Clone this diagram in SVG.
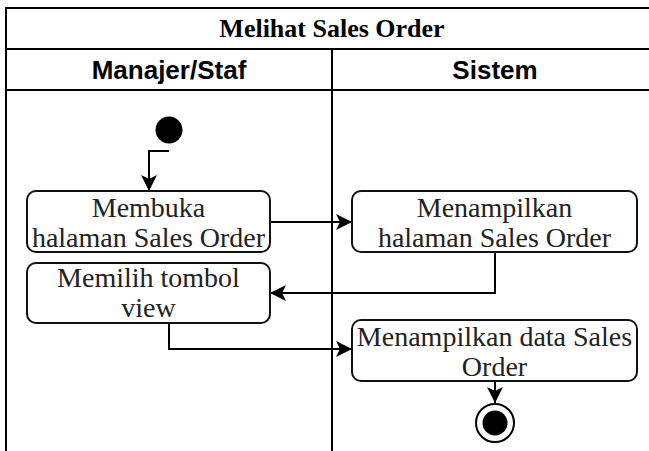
<svg xmlns="http://www.w3.org/2000/svg" width="649" height="451" viewBox="0 0 649 451">
  <style>
    .frame { fill: none; stroke: #000; stroke-width: 2; }
    .act { fill: #fff; stroke: #111; stroke-width: 2; }
    .lbl { font-family: "Liberation Serif", "Times New Roman", serif; font-size: 28px; fill: #222; text-anchor: middle; }
    .title { font-family: "Liberation Serif", "Times New Roman", serif; font-size: 26px; font-weight: bold; fill: #000; text-anchor: middle; }
    .lane { font-family: "Liberation Sans", Arial, sans-serif; font-size: 26px; font-weight: bold; fill: #000; text-anchor: middle; }
    .edge { fill: none; stroke: #000; stroke-width: 2; }
  </style>
  <defs>
    <marker id="arrow" markerUnits="userSpaceOnUse" markerWidth="17" markerHeight="17" viewBox="0 0 17 17" refX="16" refY="8" orient="auto">
      <path d="M0,0 L16,8 L0,16 L4,8 Z" fill="#000"/>
    </marker>
  </defs>

  <!-- swimlane pool -->
  <g id="pool">
    <rect x="0" y="0" width="649" height="451" fill="#fff"/>
    <path class="frame" d="M6,451 V8 H660"/>
    <path class="frame" d="M6,49 H660"/>
    <path class="frame" d="M6,90 H660"/>
    <path class="frame" d="M332,49 V451"/>
    <text class="title" x="332" y="37">Melihat Sales Order</text>
    <text class="lane" x="169" y="79">Manajer/Staf</text>
    <text class="lane" x="495" y="79">Sistem</text>
  </g>

  <!-- connectors -->
  <g id="connectors">
    <path class="edge" d="M169,151 H149 V191" marker-end="url(#arrow)"/>
    <path class="edge" d="M270,222 H352" marker-end="url(#arrow)"/>
    <path class="edge" d="M495,252 V293 H270" marker-end="url(#arrow)"/>
    <path class="edge" d="M169,323 V349 H352" marker-end="url(#arrow)"/>
    <path class="edge" d="M495,381 V403" marker-end="url(#arrow)"/>
  </g>

  <g id="start">
    <circle cx="169" cy="130" r="13.5" fill="#000"/>
  </g>

  <g id="membuka">
    <rect class="act" x="27" y="191" width="243" height="61" rx="9"/>
    <text class="lbl" x="148.5" y="217">Membuka</text>
    <text class="lbl" x="148.5" y="247">halaman Sales Order</text>
  </g>

  <g id="memilih">
    <rect class="act" x="27" y="263" width="243" height="60" rx="9"/>
    <text class="lbl" x="148.5" y="287">Memilih tombol</text>
    <text class="lbl" x="148.5" y="317">view</text>
  </g>

  <g id="tampil-halaman">
    <rect class="act" x="352" y="191" width="285" height="61" rx="9"/>
    <text class="lbl" x="494.5" y="217">Menampilkan</text>
    <text class="lbl" x="494.5" y="247">halaman Sales Order</text>
  </g>

  <g id="tampil-data">
    <rect class="act" x="352" y="320" width="285" height="61" rx="9"/>
    <text class="lbl" x="494.5" y="346">Menampilkan data Sales</text>
    <text class="lbl" x="494.5" y="376">Order</text>
  </g>

  <g id="end">
    <circle cx="495" cy="423" r="19" fill="#fff" stroke="#000" stroke-width="2"/>
    <circle cx="495" cy="423" r="12.5" fill="#000"/>
  </g>
</svg>
